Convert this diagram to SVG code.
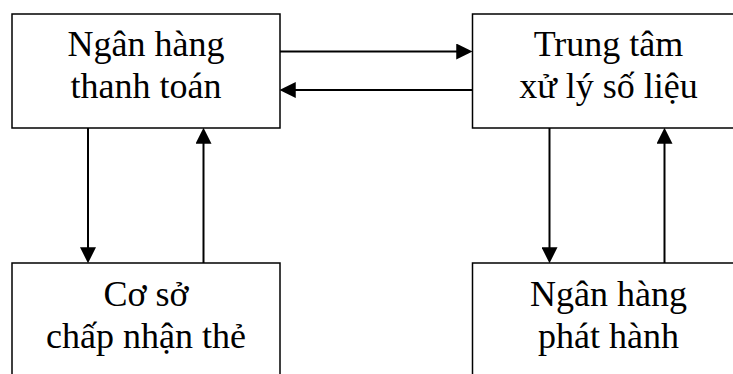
<svg xmlns="http://www.w3.org/2000/svg" width="733" height="374" viewBox="0 0 733 374">
  <style>
    .box { fill: #ffffff; stroke: #000000; stroke-width: 1.5; }
    .label { font-family: "Liberation Serif", "Times New Roman", serif; font-size: 36px; fill: #000000; text-anchor: middle; }
    .flow { stroke: #000000; stroke-width: 2; fill: none; marker-end: url(#head); }
  </style>
  <defs>
    <!-- solid triangular arrowhead; tip sits 4px past the line end -->
    <marker id="head" markerUnits="userSpaceOnUse" markerWidth="16" markerHeight="16" viewBox="0 0 15 15" refX="11" refY="7.5" orient="auto">
      <path d="M0,0 L15,7.5 L0,15 Z" fill="#000000"/>
    </marker>
  </defs>
  <rect width="733" height="374" fill="#ffffff"/>

  <g id="ngan-hang-thanh-toan">
    <rect class="box" x="12" y="14" width="268" height="114"/>
    <text class="label" x="146" y="56">Ngân hàng</text>
    <text class="label" x="146" y="98">thanh toán</text>
  </g>

  <g id="trung-tam-xu-ly">
    <rect class="box" x="472.5" y="14" width="272" height="114"/>
    <text class="label" x="608.5" y="56">Trung tâm</text>
    <text class="label" x="608.5" y="98">xử lý số liệu</text>
  </g>

  <g id="co-so-chap-nhan-the">
    <rect class="box" x="12" y="263" width="268" height="130"/>
    <text class="label" x="146" y="306">Cơ sở</text>
    <text class="label" x="146" y="348">chấp nhận thẻ</text>
  </g>

  <g id="ngan-hang-phat-hanh">
    <rect class="box" x="472.5" y="263" width="272" height="130"/>
    <text class="label" x="608.5" y="306">Ngân hàng</text>
    <text class="label" x="608.5" y="348">phát hành</text>
  </g>

  <g id="connectors">
    <line class="flow" x1="280" y1="51.5" x2="468" y2="51.5"/>
    <line class="flow" x1="472.5" y1="90" x2="284" y2="90"/>
    <line class="flow" x1="88" y1="128" x2="88" y2="259"/>
    <line class="flow" x1="203.5" y1="263" x2="203.5" y2="132"/>
    <line class="flow" x1="549.5" y1="128" x2="549.5" y2="259"/>
    <line class="flow" x1="664.5" y1="263" x2="664.5" y2="132"/>
  </g>
</svg>
